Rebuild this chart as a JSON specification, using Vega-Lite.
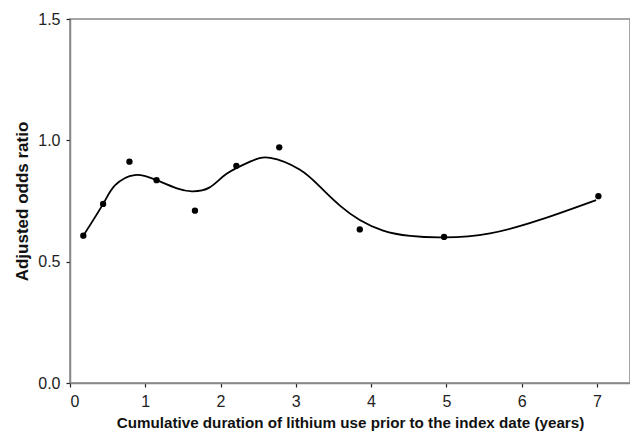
{
  "$schema": "https://vega.github.io/schema/vega-lite/v6.json",
  "autosize": {"type": "none"},
  "padding": {"left": 70, "top": 19, "right": 0, "bottom": 54},
  "width": 560,
  "height": 364,
  "background": "white",
  "config": {
    "view": {"stroke": "#888888", "strokeWidth": 1.5},
    "font": "Liberation Sans"
  },
  "datasets": {
    "points": [
      {"x": 0.177, "y": 0.607},
      {"x": 0.44, "y": 0.738},
      {"x": 0.79, "y": 0.912},
      {"x": 1.15, "y": 0.836},
      {"x": 1.66, "y": 0.710},
      {"x": 2.21, "y": 0.895},
      {"x": 2.78, "y": 0.971},
      {"x": 3.85, "y": 0.633},
      {"x": 4.97, "y": 0.602},
      {"x": 7.02, "y": 0.770}
    ],
    "curve": [
      {"x": 0.177, "y": 0.607},
      {"x": 0.44, "y": 0.738},
      {"x": 0.60, "y": 0.815},
      {"x": 0.86, "y": 0.857},
      {"x": 1.15, "y": 0.836},
      {"x": 1.42, "y": 0.802},
      {"x": 1.62, "y": 0.790},
      {"x": 1.85, "y": 0.805},
      {"x": 2.08, "y": 0.862},
      {"x": 2.39, "y": 0.912},
      {"x": 2.66, "y": 0.928},
      {"x": 3.05, "y": 0.880},
      {"x": 3.32, "y": 0.809},
      {"x": 3.59, "y": 0.730},
      {"x": 3.85, "y": 0.672},
      {"x": 4.16, "y": 0.628},
      {"x": 4.52, "y": 0.606},
      {"x": 4.97, "y": 0.600},
      {"x": 5.58, "y": 0.617},
      {"x": 6.24, "y": 0.672},
      {"x": 6.99, "y": 0.754}
    ]
  },
  "encoding": {
    "x": {
      "field": "x",
      "type": "quantitative",
      "scale": {"domain": [0, 7.44], "nice": false, "zero": false},
      "axis": {
        "title": "Cumulative duration of lithium use prior to the index date (years)",
        "values": [0, 0.5, 1, 1.5, 2, 2.5, 3, 3.5, 4, 4.5, 5, 5.5, 6, 6.5, 7],
        "format": "d",
        "labelExpr": "datum.value % 1 == 0 ? datum.label : ''",
        "grid": false,
        "domainColor": "#888888",
        "domainWidth": 1.5,
        "tickColor": "#222222",
        "tickSize": 4,
        "tickWidth": 1.2,
        "labelFontSize": 16,
        "labelColor": "#222222",
        "labelPadding": 6,
        "titleFontSize": 15.2,
        "titleFontWeight": "bold",
        "titleColor": "#111111",
        "titlePadding": 6
      }
    },
    "y": {
      "field": "y",
      "type": "quantitative",
      "scale": {"domain": [0, 1.5], "nice": false},
      "axis": {
        "title": "Adjusted odds ratio",
        "values": [0, 0.5, 1, 1.5],
        "format": ".1f",
        "grid": false,
        "domainColor": "#888888",
        "domainWidth": 1.5,
        "tickColor": "#222222",
        "tickSize": 4,
        "tickWidth": 1.2,
        "labelFontSize": 16,
        "labelColor": "#222222",
        "labelPadding": 6,
        "titleFontSize": 17,
        "titleFontWeight": "bold",
        "titleColor": "#111111",
        "titlePadding": 6
      }
    }
  },
  "layer": [
    {
      "data": {"name": "curve"},
      "mark": {"type": "line", "color": "black", "strokeWidth": 1.8, "interpolate": "natural"}
    },
    {
      "data": {"name": "points"},
      "mark": {"type": "circle", "color": "black", "opacity": 1, "size": 40}
    }
  ]
}
